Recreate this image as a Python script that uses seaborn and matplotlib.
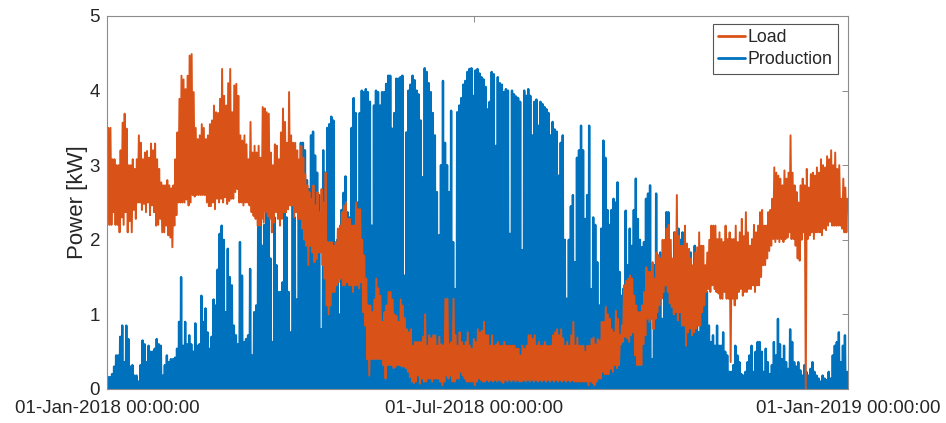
import numpy as np
import pandas as pd
import matplotlib
matplotlib.use("Agg")
import matplotlib.pyplot as plt
import matplotlib.dates as mdates
import seaborn as sns

# Daily peak PV production in kW for 2018, one row per month
production_peak = [
    0.16, 0.16, 0.2, 0.3, 0.45, 0.45, 0.7, 0.85, 0.36, 0.85, 0.67, 0.3, 0.32, 0.18, 0.18, 0.1,
    0.32, 0.65, 0.6, 0.36, 0.58, 0.5, 0.5, 0.54, 0.67, 0.6, 0.58, 0.18, 0.32, 0.45, 0.36,
    0.4, 0.4, 0.42, 0.54, 0.9, 1.5, 0.58, 0.9, 0.6, 0.72, 0.6, 0.5, 0.88, 0.58, 0.6, 1.25,
    0.9, 1.08, 0.76, 0.54, 0.7, 1.2, 1.12, 1.6, 2.08, 2.19, 2.0, 1.03,
    1.88, 1.5, 1.39, 0.85, 0.72, 0.6, 1.97, 1.52, 0.63, 0.67, 0.72, 1.61, 0.45, 1.03, 1.12, 2.5,
    2.3, 1.92, 2.2, 2.4, 2.3, 1.75, 0.63, 2.3, 1.66, 1.3, 1.3, 1.43, 2.4, 2.3, 1.3,
    0.76, 2.5, 2.3, 1.2, 2.5, 3.3, 3.3, 3.2, 2.8, 2.68, 3.4, 3.45, 3.13, 2.9, 2.6,
    0.8, 3.2, 2.9, 3.5, 3.55, 3.65, 3.6, 1.92, 2.0, 1.0, 2.4, 2.63, 2.85, 2.37, 2.3,
    3.5, 3.9, 3.7, 2.5, 3.7, 4.0, 3.98, 4.02, 3.98, 3.85, 2.19, 3.8, 4.0, 3.98, 3.8, 3.98,
    3.98, 4.09, 4.2, 4.2, 3.49, 3.7, 4.16, 4.16, 4.18, 4.2, 1.52, 3.44, 4.0, 4.08, 4.2,
    4.14, 4.0, 3.95, 3.6, 2.84, 4.3, 4.25, 4.1, 3.98, 3.7, 3.4, 2.64, 2.06, 3.0, 4.13,
    3.3, 3.0, 2.64, 3.73, 1.97, 1.34, 3.71, 3.8, 3.9, 4.08, 4.13, 4.25, 4.29, 4.3, 3.93,
    4.27, 4.29, 4.23, 4.18, 4.15, 4.05, 3.75, 3.85, 4.25, 4.22, 3.26, 4.18, 4.1, 4.08, 3.98, 4.02,
    4.0, 2.08, 4.0, 3.95, 3.92, 3.9, 3.85, 1.86, 4.0, 3.93, 4.02, 3.93, 3.4, 3.85, 3.88,
    3.53, 3.85, 3.82, 3.78, 3.75, 3.7, 3.4, 3.58, 3.48, 3.45, 2.86, 3.3, 3.4, 2.0, 1.21, 2.0,
    2.45, 2.6, 1.7, 3.1, 3.2, 3.53, 3.2, 2.28, 2.6, 3.53, 1.34, 2.3, 2.2, 1.7, 1.12,
    2.15, 3.33, 3.1, 2.4, 2.2, 2.4, 2.55, 2.5, 2.77, 1.57, 1.25, 1.35, 2.39, 1.66, 2.15,
    1.92, 2.4, 2.82, 2.28, 2.0, 1.9, 1.97, 2.55, 2.62, 2.73, 0.4, 1.66, 2.62, 1.79, 1.83,
    0.94, 1.39, 2.37, 2.37, 1.66, 1.1, 2.1, 1.8, 2.15, 2.0, 2.1, 1.92, 1.7, 1.6, 1.83, 1.39,
    1.92, 1.6, 0.76, 1.75, 1.21, 1.39, 1.3, 0.85, 0.63, 0.72, 0.58, 0.85, 0.58, 0.58, 0.76,
    0.5, 0.45, 0.23, 0.23, 0.32, 0.58, 0.45, 0.36, 0.2, 0.18, 0.23, 0.36, 0.45, 0.58, 0.23,
    0.5, 0.63, 0.63, 0.5, 0.23, 0.54, 0.36, 0.2, 0.32, 0.63, 0.45, 0.94, 0.6, 0.4, 0.58,
    0.36, 0.27, 0.8, 0.63, 0.36, 0.3, 0.36, 0.25, 0.18, 0.32, 0.23, 0.18, 0.27, 0.36, 0.23, 0.18,
    0.14, 0.1, 0.18, 0.14, 0.12, 0.23, 0.14, 0.45, 0.58, 0.63, 0.76, 0.36, 0.58, 0.72, 0.23,
]

# Daily maximum household load in kW
load_high = [
    3.5, 3.5, 3.08, 3.08, 3.0, 3.0, 3.2, 3.57, 3.69, 3.49, 3.0, 3.0, 3.08, 2.95, 3.08, 3.4,
    3.3, 3.08, 3.17, 3.19, 3.1, 3.29, 3.2, 3.29, 3.08, 2.95, 2.77, 2.73, 2.73, 2.8, 2.73,
    2.69, 2.73, 3.08, 3.44, 3.89, 4.2, 4.15, 4.02, 4.2, 4.47, 4.49, 3.98, 3.5, 3.35,
    3.4, 3.55, 3.5, 3.35, 3.4, 3.55, 3.6, 3.8, 3.71, 3.7, 3.89, 4.29, 3.93, 3.8,
    4.1, 4.29, 3.71, 4.07, 4.09, 3.93, 3.4, 3.33, 3.4, 3.28, 3.08, 3.58, 3.17, 3.26, 3.17, 3.26,
    3.1, 3.78, 3.76, 3.71, 3.69, 3.17, 3.0, 3.28, 3.26, 3.08, 3.44, 3.76, 3.58, 3.3, 3.98,
    3.4, 3.3, 3.3, 3.2, 3.08, 3.26, 3.1, 2.88, 2.73, 2.64, 2.55, 2.73, 2.46, 2.64, 2.37,
    2.68, 2.5, 2.9, 1.97, 1.97, 1.97, 1.92, 1.97, 2.15, 2.19, 2.37, 2.46, 2.5, 2.28, 2.28,
    2.19, 2.19, 2.5, 2.41, 2.41, 2.0, 1.79, 1.48, 1.12, 1.12, 1.03, 1.2, 1.48, 1.35, 1.25, 0.9,
    1.03, 1.12, 1.3, 1.3, 1.2, 1.0, 0.98, 0.9, 1.2, 1.12, 0.95, 0.8, 0.76, 0.8, 0.58,
    0.63, 0.63, 0.63, 0.63, 0.7, 1.0, 0.58, 0.72, 0.68, 0.72, 0.72, 0.58, 0.7, 0.6, 0.58,
    1.21, 1.21, 0.6, 0.63, 1.21, 0.72, 0.58, 0.76, 0.63, 0.58, 0.63, 0.76, 0.58, 0.54, 0.67,
    0.63, 0.8, 0.76, 0.78, 0.9, 0.72, 0.72, 0.58, 0.72, 0.58, 0.6, 0.63, 0.58, 0.58, 0.63, 0.58,
    0.58, 0.58, 0.58, 0.58, 0.54, 0.54, 0.45, 0.58, 0.54, 0.58, 0.72, 0.72, 0.67, 0.72, 0.58,
    0.63, 0.58, 0.58, 0.63, 0.58, 0.58, 0.58, 0.72, 0.76, 0.8, 0.72, 0.8, 0.68, 0.58, 0.63, 0.58,
    0.72, 0.9, 0.58, 0.69, 0.58, 0.58, 0.58, 0.5, 0.58, 0.58, 0.67, 0.69, 0.6, 0.67, 0.65,
    0.9, 0.9, 1.1, 1.0, 0.94, 0.8, 0.76, 1.05, 0.94, 0.72, 0.85, 1.39, 1.45, 1.48, 1.52,
    1.48, 1.25, 1.12, 1.03, 1.03, 1.12, 1.3, 1.63, 1.57, 1.57, 1.7, 1.48, 1.83, 1.79, 1.75,
    2.0, 2.0, 2.15, 2.2, 2.0, 1.75, 2.1, 2.6, 2.05, 1.92, 1.92, 2.19, 1.95, 1.88, 1.75, 1.66,
    1.83, 1.9, 2.1, 1.92, 1.92, 1.66, 1.83, 2.0, 2.19, 2.19, 2.19, 2.01, 2.1, 2.01, 1.97,
    2.19, 2.01, 2.1, 2.01, 2.01, 2.19, 1.97, 2.1, 2.28, 2.05, 2.37, 2.1, 1.92, 2.01, 2.2,
    2.1, 2.19, 2.37, 2.4, 2.19, 2.19, 2.37, 2.4, 2.55, 2.97, 2.9, 2.86, 2.82, 2.73, 2.93,
    2.82, 2.9, 3.4, 2.9, 2.73, 2.64, 2.5, 2.73, 2.82, 2.73, 2.95, 2.7, 2.88, 2.9, 2.86, 2.97,
    2.9, 3.08, 3.0, 2.97, 3.12, 3.08, 3.2, 3.0, 3.17, 2.95, 3.0, 2.55, 2.82, 2.7, 2.55,
]

# Daily minimum household load in kW
load_low = [
    2.2, 2.2, 2.2, 2.37, 2.2, 2.2, 2.1, 2.3, 2.2, 2.37, 2.1, 2.25, 2.1, 2.4, 2.28, 2.5,
    2.5, 2.4, 2.48, 2.37, 2.5, 2.33, 2.46, 2.37, 2.19, 2.2, 2.28, 2.1, 2.1, 2.19, 2.06,
    2.03, 1.9, 2.19, 2.33, 2.5, 2.5, 2.5, 2.5, 2.54, 2.46, 2.5, 2.6, 2.58, 2.6,
    2.6, 2.6, 2.6, 2.6, 2.5, 2.45, 2.45, 2.5, 2.41, 2.55, 2.5, 2.55, 2.5, 2.57,
    2.48, 2.52, 2.55, 2.55, 2.64, 2.68, 2.5, 2.5, 2.46, 2.5, 2.5, 2.46, 2.37, 2.32, 2.28, 2.19,
    2.19, 2.28, 2.23, 2.37, 2.32, 2.28, 2.1, 2.23, 2.37, 2.28, 2.19, 2.28, 2.37, 2.37, 2.41,
    2.46, 2.46, 2.3, 2.37, 2.28, 2.28, 2.15, 2.0, 1.92, 1.66, 1.92, 1.83, 1.7, 1.74, 1.83,
    1.83, 1.66, 1.48, 1.12, 1.0, 1.12, 1.3, 1.3, 1.39, 1.43, 1.48, 1.39, 1.39, 1.43, 1.39,
    1.39, 1.3, 1.39, 1.39, 1.35, 1.43, 1.03, 0.85, 0.4, 0.18, 0.4, 0.4, 0.4, 0.4, 0.4, 0.4,
    0.32, 0.14, 0.32, 0.32, 0.32, 0.28, 0.3, 0.32, 0.32, 0.3, 0.3, 0.28, 0.23, 0.16, 0.1,
    0.08, 0.1, 0.18, 0.07, 0.14, 0.1, 0.1, 0.14, 0.14, 0.1, 0.14, 0.14, 0.14, 0.1, 0.05,
    0.1, 0.18, 0.14, 0.18, 0.1, 0.1, 0.14, 0.14, 0.23, 0.18, 0.14, 0.1, 0.1, 0.1, 0.1,
    0.05, 0.1, 0.14, 0.12, 0.1, 0.1, 0.12, 0.1, 0.12, 0.1, 0.12, 0.1, 0.12, 0.1, 0.08, 0.12,
    0.1, 0.12, 0.1, 0.12, 0.1, 0.12, 0.1, 0.1, 0.12, 0.1, 0.12, 0.1, 0.12, 0.1, 0.12,
    0.1, 0.12, 0.1, 0.12, 0.1, 0.12, 0.1, 0.12, 0.1, 0.12, 0.1, 0.12, 0.1, 0.12, 0.1, 0.12,
    0.1, 0.12, 0.1, 0.1, 0.1, 0.1, 0.1, 0.1, 0.1, 0.05, 0.1, 0.08, 0.05, 0.1, 0.14,
    0.14, 0.23, 0.2, 0.2, 0.2, 0.27, 0.23, 0.32, 0.28, 0.32, 0.6, 0.63, 0.7, 0.68, 0.63,
    0.72, 0.76, 0.45, 0.32, 0.32, 0.32, 0.6, 0.72, 0.94, 0.9, 0.94, 0.8, 0.94, 1.03, 1.12,
    1.21, 1.3, 1.39, 1.3, 1.15, 1.1, 1.0, 1.03, 0.92, 1.03, 0.85, 0.85, 0.58, 0.76, 0.81, 0.72,
    0.76, 0.81, 0.85, 0.85, 1.03, 1.12, 1.3, 1.34, 1.3, 1.39, 1.34, 1.3, 1.28, 1.21, 1.21,
    1.3, 1.21, 1.21, 0.36, 1.21, 1.12, 1.21, 1.3, 1.34, 1.25, 1.3, 1.3, 1.34, 1.34, 1.39,
    1.3, 1.39, 1.39, 1.5, 1.66, 1.66, 1.75, 1.85, 1.92, 2.01, 1.97, 2.01, 1.97, 2.01, 1.97,
    2.01, 2.03, 2.1, 2.01, 2.01, 1.92, 1.75, 1.72, 2.0, 2.1, 0.0, 2.01, 2.06, 2.1, 2.01, 2.1,
    2.1, 2.1, 2.06, 2.15, 2.13, 2.19, 2.24, 2.19, 2.19, 2.19, 2.19, 2.19, 2.15, 2.1, 2.1,
]

year_start = pd.Timestamp("2018-01-01")
year_end = pd.Timestamp("2019-01-01")
x_tick_dates = ["2018-01-01", "2018-07-01", "2019-01-01"]
y_ticks = [0, 1, 2, 3, 4, 5]

BLUE = "#0072BD"
ORANGE = "#D95319"
TEXT = "#262626"
FRAME = "#8c8c8c"

n_days = len(production_peak)
day = np.arange(n_days)

# Production: zero overnight, daily peak around noon
prod_t = np.column_stack([day + 0.25, day + 0.5, day + 0.75]).ravel()
prod_v = np.column_stack([np.zeros(n_days), production_peak, np.zeros(n_days)]).ravel()
prod_df = pd.DataFrame({
    "time": year_start + pd.to_timedelta(prod_t, unit="D"),
    "power": prod_v,
})

# Load: nightly minimum followed by evening maximum
load_t = np.column_stack([day + 0.2, day + 0.7]).ravel()
load_v = np.column_stack([load_low, load_high]).ravel()
load_df = pd.DataFrame({
    "time": year_start + pd.to_timedelta(load_t, unit="D"),
    "power": load_v,
})

sns.set_theme(style="white")
plt.rcParams["font.family"] = ["Liberation Sans", "DejaVu Sans"]
plt.rcParams["text.color"] = TEXT
plt.rcParams["axes.labelcolor"] = TEXT
plt.rcParams["xtick.color"] = TEXT
plt.rcParams["ytick.color"] = TEXT

fig = plt.figure(figsize=(9.46, 4.23), dpi=100)
ax = fig.add_axes([0.1131, 0.0804, 0.7833, 0.8818])

sns.lineplot(data=prod_df, x="time", y="power", color=BLUE, linewidth=1.7,
             estimator=None, sort=False, label="Production", ax=ax)
sns.lineplot(data=load_df, x="time", y="power", color=ORANGE, linewidth=1.4,
             estimator=None, sort=False, label="Load", ax=ax)

ax.set_xlim(year_start, year_end)
ax.set_ylim(0, 5)
ax.set_yticks(y_ticks)
ax.set_xticks([mdates.date2num(pd.Timestamp(d)) for d in x_tick_dates])
ax.xaxis.set_major_formatter(mdates.DateFormatter("%d-%b-%Y %H:%M:%S"))

ax.set_xlabel("")
ax.set_ylabel("Power [kW]", fontsize=16, labelpad=1)

ax.tick_params(axis="both", which="major", direction="in", length=4.5, width=0.7,
               color=FRAME, labelsize=13.5, top=True, right=True,
               labeltop=False, labelright=False)
ax.tick_params(axis="x", pad=8)
ax.tick_params(axis="y", pad=5)

for spine in ax.spines.values():
    spine.set_visible(True)
    spine.set_color(FRAME)
    spine.set_linewidth(0.8)

handles, labels = ax.get_legend_handles_labels()
order = [labels.index("Load"), labels.index("Production")]
leg = ax.legend([handles[i] for i in order], [labels[i] for i in order],
                loc="upper right", bbox_to_anchor=(0.9865, 0.979),
                borderaxespad=0, fontsize=12.8, frameon=True, fancybox=False,
                framealpha=1, edgecolor="#555555", handlelength=1.5,
                handletextpad=0.15, labelspacing=0.3, borderpad=0.3)
leg.get_frame().set_linewidth(0.8)
for line in leg.get_lines():
    line.set_linewidth(2.0)

fig.savefig("out.png", dpi=100)
